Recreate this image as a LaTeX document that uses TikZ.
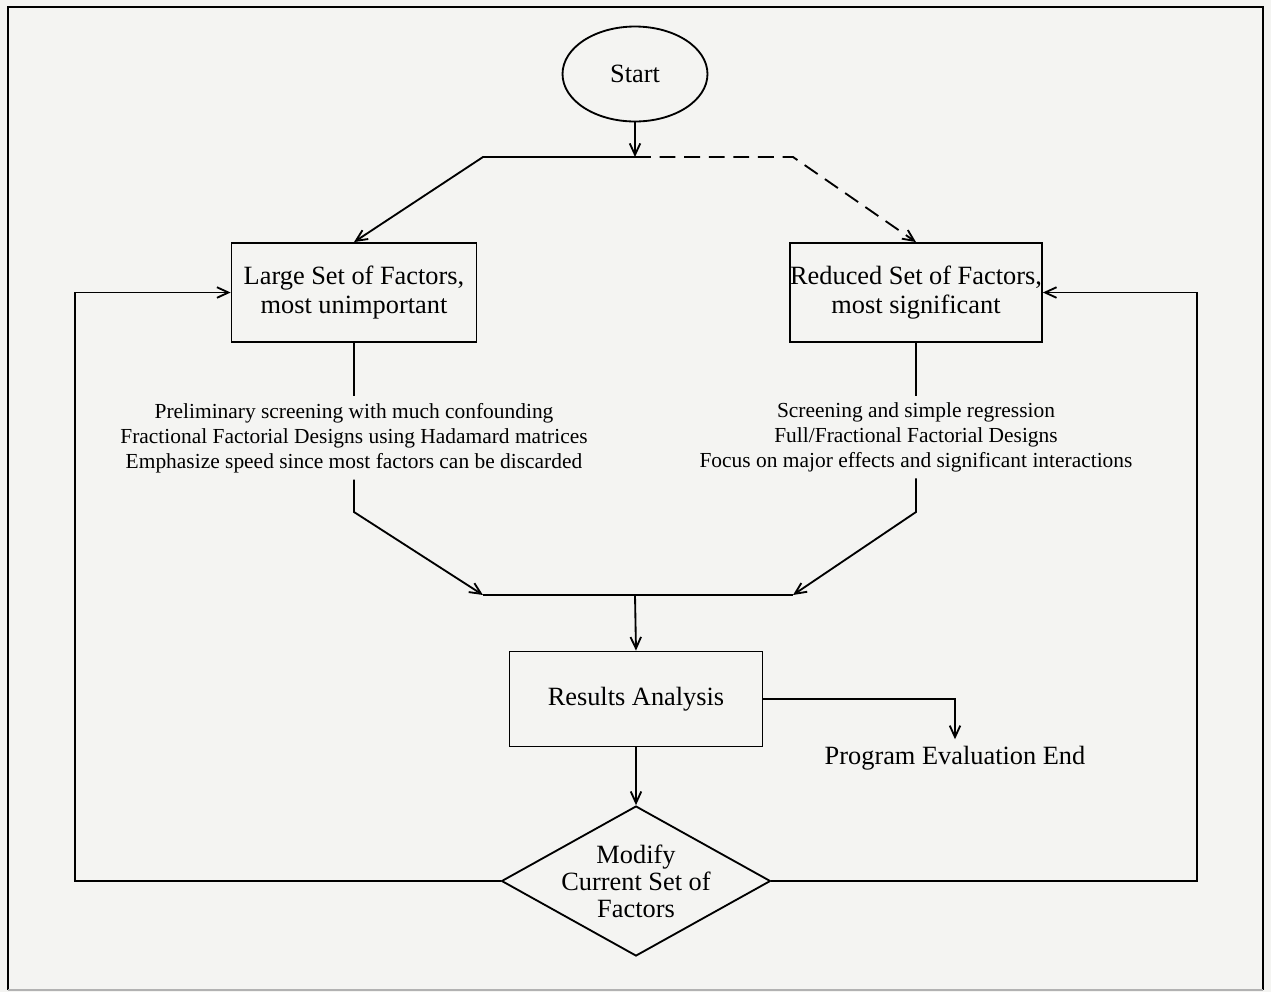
\documentclass[tikz,border=0pt]{standalone}
\usepackage{fontspec}
\setmainfont{Liberation Serif}
\usetikzlibrary{arrows.meta,shapes.geometric}
\tikzset{%%
  >={Straight Barb[length=6.5pt,width=6pt]}
  }
\definecolor{paperGray}{RGB}{244,244,242}

\begin{document}
\begin{tikzpicture}[x=0.02cm,y=-0.02cm,line width=1.05pt,
  box/.style={draw,rectangle,align=center,font=\fontsize{15}{17}\selectfont},
  note/.style={align=center,font=\fontsize{12.2}{14.2}\selectfont}]
  \fill[paperGray] (0,0) rectangle (1271,992);
  \useasboundingbox (0,0) rectangle (1271,992);
  \draw[line width=1.3pt] (8,990) -- (8,7) -- (1263,7) -- (1263,990);
  \draw[gray!60] (8,990) -- (1263,990);
  % nodes
  \node[draw,ellipse,minimum width=2.9cm,minimum height=1.9cm,font=\fontsize{15}{17}\selectfont] (start) at (635,74) {Start};
  \node[box,minimum width=4.9cm,minimum height=1.98cm] (large) at (354,292.5) {Large Set of Factors,\\most unimportant};
  \node[box,minimum width=5.04cm,minimum height=1.98cm,inner xsep=0pt] (reduced) at (916,292.5) {Reduced Set of Factors,\\most significant};
  \node[note] (noteL) at (354,438) {Preliminary screening with much confounding\\Fractional Factorial Designs using Hadamard matrices\\Emphasize speed since most factors can be discarded};
  \node[note] (noteR) at (916,437) {Screening and simple regression\\Full/Fractional Factorial Designs\\Focus on major effects and significant interactions};
  \node[box,minimum width=5.06cm,minimum height=1.9cm] (results) at (636,699) {Results Analysis};
  \node[font=\fontsize{15}{17}\selectfont] (progEnd) at (955,758) {Program Evaluation End};
  \node[draw,diamond,minimum width=5.38cm,minimum height=3cm,inner sep=0pt,
    label={[align=center,font=\fontsize{15}{15.4}\selectfont]center:Modify\\Current Set of\\Factors}] (modify) at (636,881) {};
  % junctions
  \coordinate (split) at (635,157);
  \coordinate (splitL) at (483,157);
  \coordinate (splitR) at (793,157);
  \coordinate (bendL) at (354,512);
  \coordinate (bendR) at (916,512);
  \coordinate (mergeL) at (483,595);
  \coordinate (mergeR) at (793,595);
  \coordinate (merge) at (635,595);
  \coordinate (loopL) at (75,881);
  \coordinate (loopR) at (1197,881);
  % connectors
  \draw[->] (start) -- (split);
  \draw[->] (split) -- (splitL) -- (large.north);
  \draw[->,dash pattern=on 9pt off 5pt] (split) -- (splitR) -- (reduced.north);
  \draw (large.south) -- (noteL.north);
  \draw[->] (noteL.south) -- (bendL) -- (mergeL);
  \draw (reduced.south) -- (noteR.north);
  \draw[->] (noteR.south) -- (bendR) -- (mergeR);
  \draw (mergeL) -- (mergeR);
  \draw[->] (merge) -- (results.north);
  \draw[->] (results.east) -| (progEnd.north);
  \draw[->] (results.south) -- (modify.north);
  \draw[->] (modify.west) -- (loopL) |- (large.west);
  \draw[->] (modify.east) -- (loopR) |- (reduced.east);
\end{tikzpicture}
\end{document}
